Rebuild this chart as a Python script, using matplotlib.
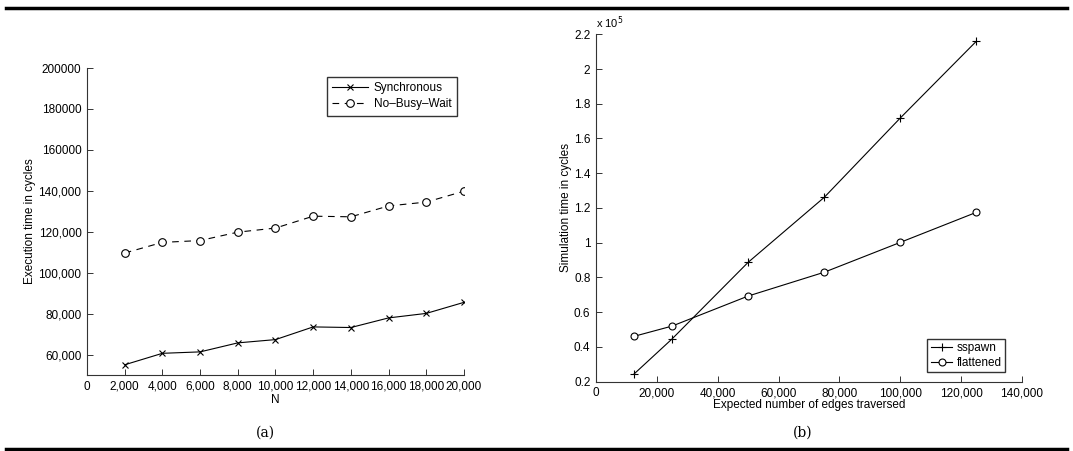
import numpy as np
import matplotlib.pyplot as plt
from matplotlib.lines import Line2D

plt.rcParams['font.family'] = ['Liberation Sans', 'DejaVu Sans']

# (a) execution time vs N
n_vals = [2000, 4000, 6000, 8000, 10000, 12000, 14000, 16000, 18000, 20000]
sync = [55000, 60600, 61300, 65700, 67300, 73500, 73200, 77900, 80100, 85500]
nobusy = [109600, 114800, 115700, 119800, 121800, 127600, 127300, 132600, 134500, 139800]
a_yticks = [60000, 80000, 100000, 120000, 140000, 160000, 180000, 200000]
a_ylabels = ['60,000', '80,000', '100,000', '120,000', '140,000', '160000', '180000', '200000']
a_xticks = [0, 2000, 4000, 6000, 8000, 10000, 12000, 14000, 16000, 18000, 20000]
a_xlabels = ['0', '2,000', '4,000', '6,000', '8,000', '10,000', '12,000', '14,000',
             '16,000', '18,000', '20,000']

# (b) simulation time (x 10^5 cycles) vs edges traversed
edges = [12500, 25000, 50000, 75000, 100000, 125000]
sspawn = [0.244, 0.446, 0.887, 1.261, 1.718, 2.16]
flattened = [0.461, 0.520, 0.693, 0.830, 1.002, 1.175]
b_yticks = [0.2, 0.4, 0.6, 0.8, 1.0, 1.2, 1.4, 1.6, 1.8, 2.0, 2.2]
b_ylabels = ['0.2', '0.4', '0.6', '0.8', '1', '1.2', '1.4', '1.6', '1.8', '2', '2.2']
b_xticks = [0, 20000, 40000, 60000, 80000, 100000, 120000, 140000]
b_xlabels = ['0', '20,000', '40,000', '60,000', '80,000', '100,000', '120,000', '140,000']

fig = plt.figure(figsize=(10.73, 4.51), dpi=100)
ax1 = fig.add_axes([0.0811, 0.1685, 0.3513, 0.6807])
ax2 = fig.add_axes([0.5554, 0.1537, 0.3971, 0.7703])

def style(ax):
    for s in ['top', 'right']:
        ax.spines[s].set_visible(False)
    for s in ['left', 'bottom']:
        ax.spines[s].set_color('#333333')
        ax.spines[s].set_linewidth(0.8)
    ax.tick_params(direction='in', length=4, width=0.7, labelsize=8.5, color='#333333', pad=4)

ax1.plot(n_vals, sync, '-', color='black', lw=0.8, marker='x', ms=4, mew=0.8,
         label='Synchronous')
ax1.plot(n_vals, nobusy, '--', color='black', lw=0.8, marker='o', ms=5.5, mfc='white',
         mew=0.8, dashes=(6, 5), label='No\u2013Busy\u2013Wait')
ax1.set_xlim(0, 20000)
ax1.set_ylim(50000, 200000)
ax1.set_xticks(a_xticks)
ax1.set_xticklabels(a_xlabels)
ax1.set_yticks(a_yticks)
ax1.set_yticklabels(a_ylabels)
ax1.set_xlabel('N', fontsize=8.5, labelpad=1)
ax1.set_ylabel('Execution time in cycles', fontsize=8.5, labelpad=2)
style(ax1)
leg1 = ax1.legend(loc='upper right', bbox_to_anchor=(0.996, 0.99), fontsize=8.5, frameon=True,
                  fancybox=False, edgecolor='black', handlelength=3, borderpad=0.45,
                  labelspacing=0.35, handletextpad=0.5)
leg1.get_frame().set_linewidth(1.0)

ax2.plot(edges, sspawn, '-', color='black', lw=0.8, marker='+', ms=6, mew=0.8, label='sspawn')
ax2.plot(edges, flattened, '-', color='black', lw=0.8, marker='o', ms=5, mfc='white',
         mew=0.8, label='flattened')
ax2.set_xlim(0, 140000)
ax2.set_ylim(0.2, 2.2)
ax2.set_xticks(b_xticks)
ax2.set_xticklabels(b_xlabels)
ax2.set_yticks(b_yticks)
ax2.set_yticklabels(b_ylabels)
ax2.set_xlabel('Expected number of edges traversed', fontsize=8.5, labelpad=0)
ax2.set_ylabel('Simulation time in cycles', fontsize=8.5, labelpad=1)
ax2.text(0.0, 1.01, r'x 10$^5$', transform=ax2.transAxes, fontsize=8, va='bottom', ha='left')
style(ax2)
leg2 = ax2.legend(loc='lower right', bbox_to_anchor=(0.975, 0.01), fontsize=8.5, frameon=True,
                  fancybox=False, edgecolor='black', handlelength=1.8, borderpad=0.3,
                  labelspacing=0.2, handletextpad=0.4)
leg2.get_frame().set_linewidth(1.0)

fig.text(265 / 1073, 1 - 433 / 451, '(a)', family='DejaVu Serif', fontsize=10, ha='center', va='center')
fig.text(803 / 1073, 1 - 433 / 451, '(b)', family='DejaVu Serif', fontsize=10, ha='center', va='center')

fig.add_artist(Line2D([0.006, 0.994], [1 - 8 / 451, 1 - 8 / 451], transform=fig.transFigure,
                      color='black', lw=2.5))
fig.add_artist(Line2D([0.006, 0.994], [1 - 449 / 451, 1 - 449 / 451], transform=fig.transFigure,
                      color='black', lw=2.5))

fig.savefig('out.png', dpi=100)
